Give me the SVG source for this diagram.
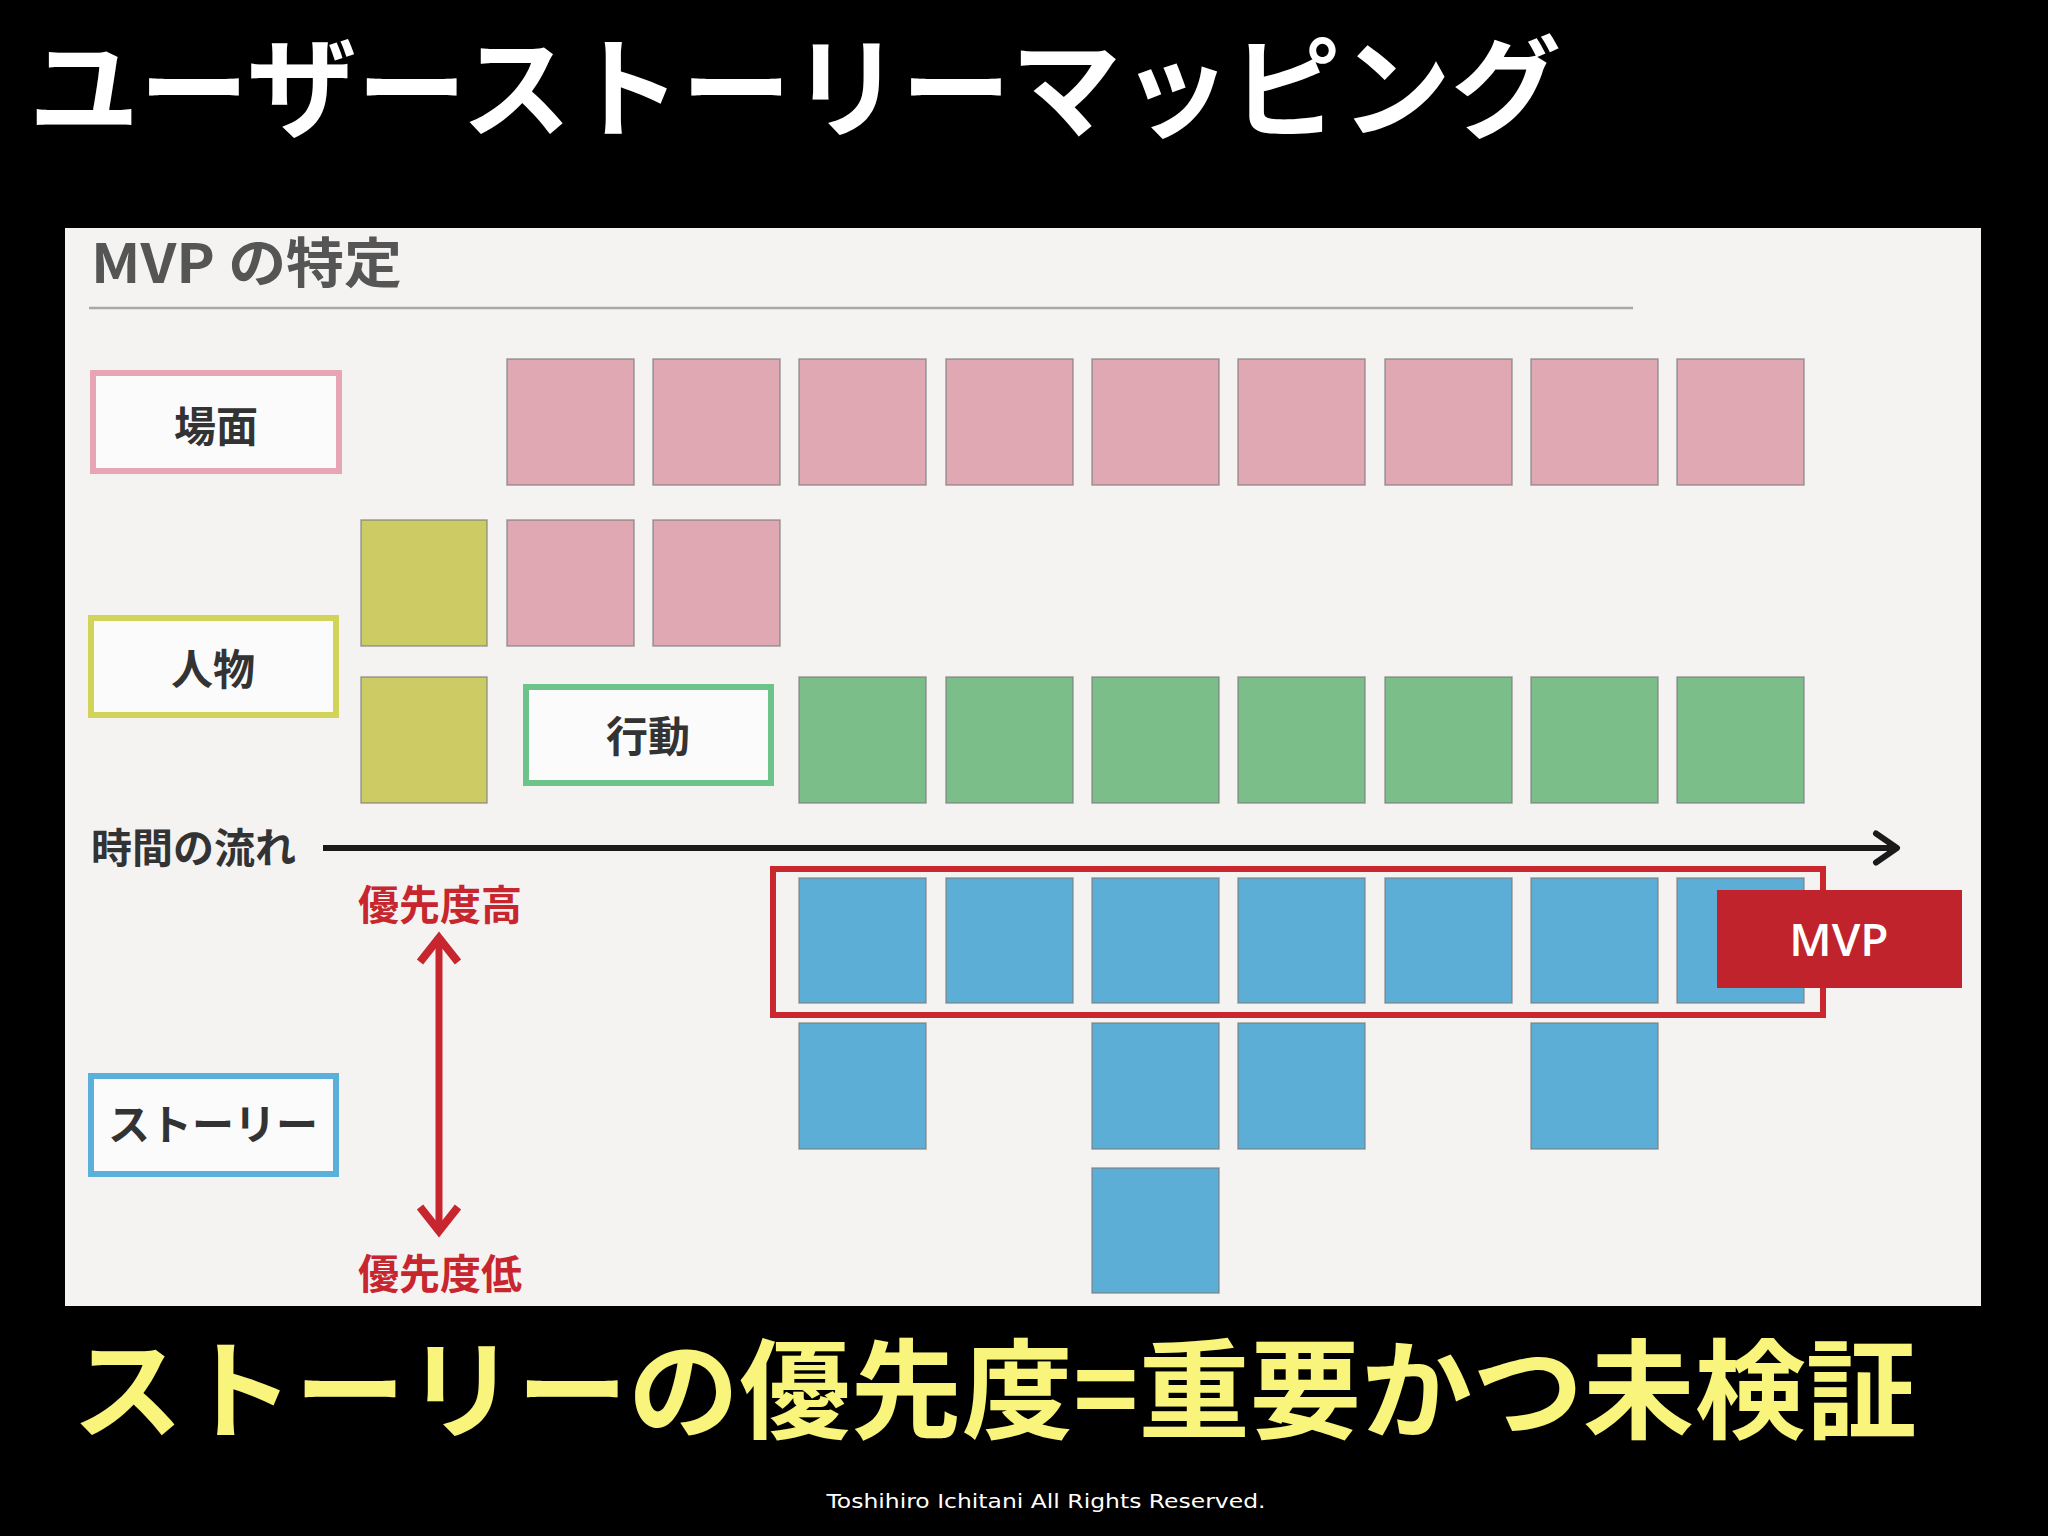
<svg xmlns="http://www.w3.org/2000/svg" width="2048" height="1536" viewBox="0 0 2048 1536">
<defs>
<style>
.jp{font-family:"Noto Sans CJK JP","Noto Sans",sans-serif;font-weight:700}
.lbl{font-size:42px;fill:#333;text-anchor:middle}
.red{font-size:41px;fill:#c8262e;text-anchor:middle}
.sq{stroke:#7a7a7a;stroke-width:1.5;stroke-opacity:0.7}
.pk{fill:#e0a8b3}
.yl{fill:#cdcb63}
.gr{fill:#7bbe89}
.bl{fill:#5daed7}
.box{fill:#fbfbfb;stroke-width:6}
</style>
<marker id="chevK" viewBox="-30 -20 40 40" refX="0" refY="0" markerWidth="40" markerHeight="40" markerUnits="userSpaceOnUse" orient="auto">
<path d="M-21,-14.5 L0,0 L-21,14.5" fill="none" stroke="#1a1a1a" stroke-width="6" stroke-linecap="round" stroke-linejoin="round"/>
</marker>
<marker id="chevR" viewBox="-30 -25 40 50" refX="0" refY="0" markerWidth="40" markerHeight="50" markerUnits="userSpaceOnUse" orient="auto-start-reverse">
<path d="M-24,-19 L0,0 L-24,19" fill="none" stroke="#c8262e" stroke-width="8" stroke-linecap="butt" stroke-linejoin="miter"/>
</marker>
</defs>
<rect x="0" y="0" width="2048" height="1536" fill="#000"/>
<text class="jp" x="29" y="129" font-size="110" fill="#fff" textLength="1532" lengthAdjust="spacingAndGlyphs">ユーザーストーリーマッピング</text>
<rect x="65" y="228" width="1916" height="1078" fill="#f4f3f2"/>
<text class="jp" x="91" y="283" font-size="54" font-weight="600" fill="#555" textLength="311" lengthAdjust="spacingAndGlyphs">MVP の特定</text>
<line x1="89" y1="308" x2="1633" y2="308" stroke="#a8a8a8" stroke-width="2.5"/>

<g id="label-bamen"><rect class="box" x="93" y="373" width="246" height="98" stroke="#e8a5b4"/><text class="jp lbl" x="216" y="442">場面</text></g>
<g id="label-jinbutsu"><rect class="box" x="91" y="618" width="245" height="97" stroke="#d2d45a"/><text class="jp lbl" x="213" y="685">人物</text></g>
<g id="label-koudou"><rect class="box" x="526" y="687" width="245" height="96" stroke="#6cc48a"/><text class="jp lbl" x="648" y="752">行動</text></g>
<g id="label-story"><rect class="box" x="91" y="1076" width="245" height="98" stroke="#5bb0db"/><text class="jp lbl" x="213" y="1140">ストーリー</text></g>

<g id="scenes">
<rect class="sq pk" x="507" y="359" width="127" height="126"/>
<rect class="sq pk" x="653" y="359" width="127" height="126"/>
<rect class="sq pk" x="799" y="359" width="127" height="126"/>
<rect class="sq pk" x="946" y="359" width="127" height="126"/>
<rect class="sq pk" x="1092" y="359" width="127" height="126"/>
<rect class="sq pk" x="1238" y="359" width="127" height="126"/>
<rect class="sq pk" x="1385" y="359" width="127" height="126"/>
<rect class="sq pk" x="1531" y="359" width="127" height="126"/>
<rect class="sq pk" x="1677" y="359" width="127" height="126"/>
<rect class="sq pk" x="507" y="520" width="127" height="126"/>
<rect class="sq pk" x="653" y="520" width="127" height="126"/>
</g>
<g id="persons">
<rect class="sq yl" x="361" y="520" width="126" height="126"/>
<rect class="sq yl" x="361" y="677" width="126" height="126"/>
</g>
<g id="actions">
<rect class="sq gr" x="799" y="677" width="127" height="126"/>
<rect class="sq gr" x="946" y="677" width="127" height="126"/>
<rect class="sq gr" x="1092" y="677" width="127" height="126"/>
<rect class="sq gr" x="1238" y="677" width="127" height="126"/>
<rect class="sq gr" x="1385" y="677" width="127" height="126"/>
<rect class="sq gr" x="1531" y="677" width="127" height="126"/>
<rect class="sq gr" x="1677" y="677" width="127" height="126"/>
</g>
<g id="stories">
<rect class="sq bl" x="799" y="878" width="127" height="125"/>
<rect class="sq bl" x="946" y="878" width="127" height="125"/>
<rect class="sq bl" x="1092" y="878" width="127" height="125"/>
<rect class="sq bl" x="1238" y="878" width="127" height="125"/>
<rect class="sq bl" x="1385" y="878" width="127" height="125"/>
<rect class="sq bl" x="1531" y="878" width="127" height="125"/>
<rect class="sq bl" x="1677" y="878" width="127" height="125"/>
<rect class="sq bl" x="799" y="1023" width="127" height="126"/>
<rect class="sq bl" x="1092" y="1023" width="127" height="126"/>
<rect class="sq bl" x="1238" y="1023" width="127" height="126"/>
<rect class="sq bl" x="1531" y="1023" width="127" height="126"/>
<rect class="sq bl" x="1092" y="1168" width="127" height="125"/>
</g>
<g id="mvp-frame"><rect x="773" y="869" width="1050" height="146" fill="none" stroke="#c9262e" stroke-width="6"/></g>
<g id="mvp-label"><rect x="1717" y="890" width="245" height="98" fill="#c0232b"/><text x="1839" y="956" font-family="'Open Sans','Noto Sans',sans-serif" font-weight="600" font-size="46" fill="#fff" text-anchor="middle">MVP</text></g>

<g id="connectors">
<line x1="323" y1="848" x2="1897" y2="848" stroke="#1a1a1a" stroke-width="6" marker-end="url(#chevK)"/>
<line x1="439" y1="938" x2="439" y2="1231" stroke="#c8262e" stroke-width="7" marker-start="url(#chevR)" marker-end="url(#chevR)"/>
</g>
<text class="jp" x="91" y="863" font-size="41" fill="#333">時間の流れ</text>
<text class="jp red" x="440" y="920">優先度高</text>
<text class="jp red" x="440" y="1289">優先度低</text>

<text class="jp" x="72" y="1430" font-size="108" fill="#f8f47c" textLength="1845" lengthAdjust="spacingAndGlyphs">ストーリーの優先度=重要かつ未検証</text>
<text x="1046" y="1508" font-family="'DejaVu Sans',sans-serif" font-size="20" fill="#fff" text-anchor="middle" textLength="439" lengthAdjust="spacingAndGlyphs">Toshihiro Ichitani All Rights Reserved.</text>
</svg>
